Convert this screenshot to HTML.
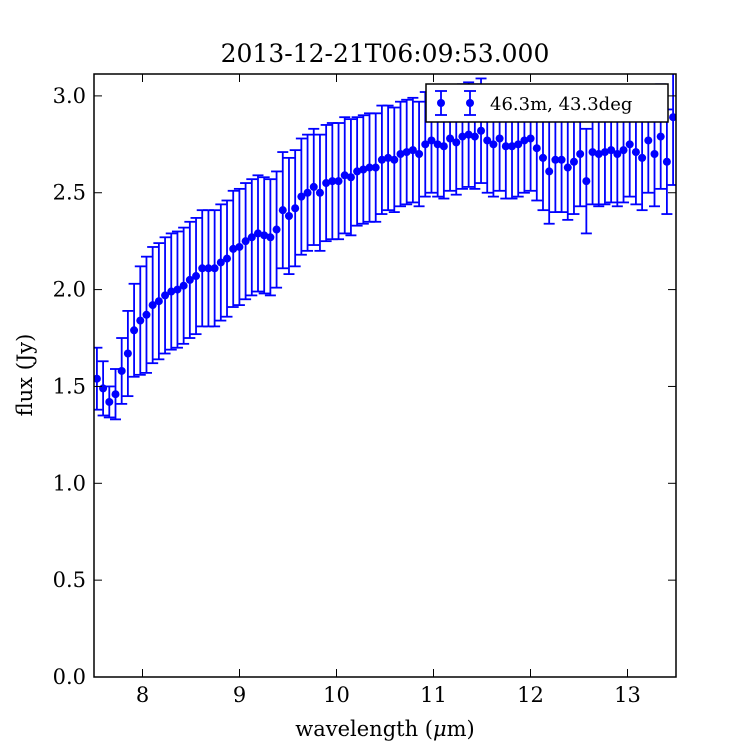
<!DOCTYPE html>
<html><head><meta charset="utf-8"><style>
body{margin:0;background:#fff;}
svg text{font-family:"DejaVu Serif","Liberation Serif",serif;fill:#000;}
</style></head><body>
<svg id="chart" width="750" height="750" viewBox="0 0 750 750" xmlns="http://www.w3.org/2000/svg">
<rect width="750" height="750" fill="#fff"/>
<text x="385" y="62" font-size="25" text-anchor="middle">2013-12-21T06:09:53.000</text>
<g id="marks"></g>
<g id="axes"></g>
<text x="385" y="736" font-size="21" text-anchor="middle">wavelength (<tspan font-style="italic">μ</tspan>m)</text>
<text transform="translate(32,375) rotate(-90)" font-size="21" text-anchor="middle">flux (Jy)</text>
<g>
<rect x="426" y="84" width="242" height="38" fill="#fff" stroke="#000" stroke-width="1.5"/>
<g stroke="#0000ff" stroke-width="1.8">
<line x1="441" y1="91" x2="441" y2="115"/><line x1="435" y1="91" x2="447" y2="91"/><line x1="435" y1="115" x2="447" y2="115"/>
<line x1="470" y1="91" x2="470" y2="115"/><line x1="464" y1="91" x2="476" y2="91"/><line x1="464" y1="115" x2="476" y2="115"/>
</g>
<circle cx="441" cy="103" r="4" fill="#0000ff"/><circle cx="470" cy="103" r="4" fill="#0000ff"/>
<text x="490" y="110" font-size="18">46.3m, 43.3deg</text>
</g>
</svg>
<script>
const fluxValues=[1.54,1.49,1.42,1.46,1.58,1.67,1.79,1.84,1.87,1.92,1.94,1.97,1.99,2.00,2.02,2.05,2.07,2.11,2.11,2.11,2.14,2.16,2.21,2.22,2.25,2.27,2.29,2.28,2.27,2.31,2.41,2.38,2.42,2.48,2.50,2.53,2.50,2.55,2.56,2.56,2.59,2.58,2.61,2.62,2.63,2.63,2.67,2.68,2.67,2.70,2.71,2.72,2.70,2.75,2.77,2.75,2.74,2.78,2.76,2.79,2.80,2.79,2.82,2.77,2.75,2.78,2.74,2.74,2.75,2.77,2.78,2.73,2.68,2.61,2.67,2.67,2.63,2.66,2.70,2.56,2.71,2.70,2.71,2.72,2.70,2.72,2.75,2.71,2.68,2.77,2.70,2.79,2.66,2.89];
const fluxErrors=[0.16,0.14,0.08,0.13,0.17,0.22,0.24,0.28,0.30,0.30,0.30,0.30,0.30,0.30,0.30,0.30,0.30,0.30,0.30,0.30,0.30,0.30,0.30,0.30,0.30,0.30,0.30,0.30,0.30,0.30,0.30,0.30,0.30,0.30,0.30,0.30,0.30,0.30,0.30,0.30,0.30,0.30,0.28,0.28,0.28,0.28,0.28,0.27,0.27,0.27,0.27,0.27,0.27,0.27,0.27,0.27,0.27,0.27,0.27,0.27,0.27,0.27,0.27,0.27,0.27,0.27,0.27,0.27,0.27,0.27,0.27,0.27,0.27,0.27,0.27,0.27,0.27,0.27,0.27,0.27,0.27,0.27,0.27,0.27,0.27,0.27,0.27,0.27,0.27,0.27,0.27,0.27,0.27,0.35];
const wlStart=7.53, wlEnd=13.47;
const xTicks=[8,9,10,11,12,13];
const yTicks=["0.0","0.5","1.0","1.5","2.0","2.5","3.0"];
const X0=94,X1=676,Y0=677,Y1=74,xmin=7.5,xmax=13.5,ymin=0,ymax=3.113;
const sx=v=>X0+(v-xmin)/(xmax-xmin)*(X1-X0);
const sy=v=>Y0-(v-ymin)/(ymax-ymin)*(Y0-Y1);
const NS="http://www.w3.org/2000/svg";
function mk(t,a,p){const e=document.createElementNS(NS,t);for(const k in a)e.setAttribute(k,a[k]);p.appendChild(e);return e;}
const marks=document.getElementById('marks');
const clip=mk('clipPath',{id:'pc'},marks);mk('rect',{x:X0,y:Y1,width:X1-X0,height:Y0-Y1},clip);
const g=mk('g',{'clip-path':'url(#pc)'},marks);
const n=fluxValues.length;
for(let i=0;i<n;i++){
 const w=wlStart+(wlEnd-wlStart)*i/(n-1);
 const x=sx(w),v=fluxValues[i],e=fluxErrors[i];
 const bar=mk('g',{stroke:'#0000ff','stroke-width':1.8},g);
 
 
 mk('line',{x1:x,x2:x,y1:sy(v-e),y2:sy(v+e)},bar);
 mk('line',{x1:x-5.5,x2:x+5.5,y1:sy(v-e),y2:sy(v-e)},bar);
 mk('line',{x1:x-5.5,x2:x+5.5,y1:sy(v+e),y2:sy(v+e)},bar);
 const c=mk('circle',{cx:x,cy:sy(v),r:4,fill:'#0000ff'},g);
 
 
}
const ax=document.getElementById('axes');
const frame=mk('rect',{x:X0,y:Y1,width:X1-X0,height:Y0-Y1,fill:'none',stroke:'#000','stroke-width':1.5},ax);


xTicks.forEach(t=>{const x=sx(t);
 mk('line',{x1:x,x2:x,y1:Y0,y2:Y0-8,stroke:'#000'},ax);mk('line',{x1:x,x2:x,y1:Y1,y2:Y1+8,stroke:'#000'},ax);
 const tx=mk('text',{x:x,y:Y0+25,'font-size':21,'text-anchor':'middle'},ax);tx.textContent=t;
 
 });
yTicks.forEach(t=>{const y=sy(parseFloat(t));
 mk('line',{x1:X0,x2:X0+8,y1:y,y2:y,stroke:'#000'},ax);mk('line',{x1:X1,x2:X1-8,y1:y,y2:y,stroke:'#000'},ax);
 const tx=mk('text',{x:X0-8,y:y+7,'font-size':21,'text-anchor':'end'},ax);tx.textContent=t;
 
 });
</script>
</body></html>
